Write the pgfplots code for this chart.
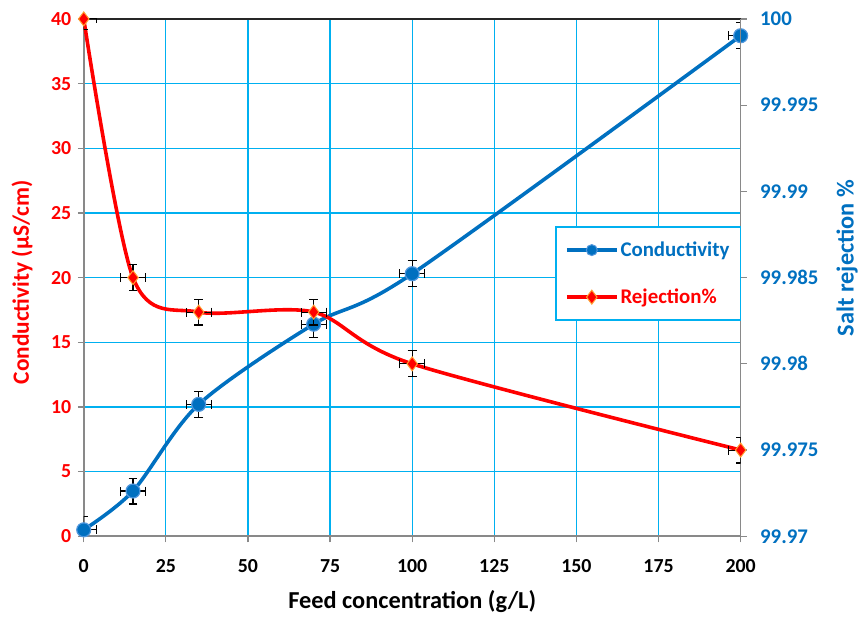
\documentclass[border=0pt]{standalone}
\usepackage{pgfplots}
\pgfplotsset{compat=1.18}
\usepackage{fontspec}
\setmainfont{Carlito}
\definecolor{cblue}{RGB}{0,112,192}
\definecolor{cbluelight}{RGB}{80,150,220}
\definecolor{gridblue}{RGB}{0,176,240}
\definecolor{axgray}{RGB}{137,137,137}
\definecolor{mkorange}{RGB}{255,160,50}

% feed concentration (g/L), value, x error, y error
\pgfplotstableread{
x    y      ex   ey
0    0.5    3.8  1.0
15   3.5    3.8  1.0
35   10.2   3.8  1.0
70   16.4   3.8  1.0
100  20.3   3.8  1.0
200  38.7   3.8  1.0
}\conductivity
\pgfplotstableread{
x    y        ex   ey
0    100      3.8  0.0006
15   99.985   3.8  0.00075
35   99.983   3.8  0.00075
70   99.983   3.8  0.00075
100  99.980   3.8  0.00075
200  99.975   3.8  0.00075
}\rejection

\begin{document}
\begin{tikzpicture}[x=1bp,y=1bp]
\path (0,0) rectangle (861,621);
\pgfplotsset{
  every axis/.append style={
    scale only axis, width=659bp, height=519bp,
    at={(84bp,83bp)}, anchor=south west,
    xmin=0, xmax=200, clip mode=individual,
    tick label style={font=\fontsize{20}{24}\selectfont\bfseries},
    /pgf/number format/assume math mode=true,
    tick align=outside, major tick length=6bp,
    tick style={axgray, line width=1.2bp},
    axis line style={axgray, line width=1.6bp},
  },
  errbar/.style={
    error bars/.cd,
      x dir=both, x explicit, y dir=both, y explicit,
      error bar style={black, line width=1.1bp},
      error mark options={rotate=90, black, line width=1.1bp, mark size=4.5bp},
  },
}
\begin{axis}[
  ymin=0, ymax=40, ytick={0,5,...,40},
  xtick={0,25,...,200},
  xtick pos=bottom, ytick pos=left,
  grid=major, grid style={gridblue, line width=1.3bp},
  xticklabel style={black, yshift=-14bp},
  yticklabel style={red, xshift=-3bp},
  xlabel={Feed concentration (g/L)},
  ylabel={Conductivity (µS/cm)},
  every axis x label/.style={at={(axis description cs:0.5,-0.127)}, anchor=center,
    font=\fontsize{24.5}{28}\selectfont\bfseries, black},
  every axis y label/.style={at={(axis description cs:-0.094,0.491)}, anchor=center, rotate=90,
    font=\fontsize{23.5}{27}\selectfont\bfseries, red},
]
\addplot[cblue, line width=3.6bp, smooth,
  mark=*, mark size=7bp, mark options={fill=cblue, draw=cbluelight, line width=1.2bp},
  errbar]
  table[x=x, y=y, x error=ex, y error=ey] {\conductivity};
\draw[black!85, line width=1.6bp] (rel axis cs:0,1) -- (rel axis cs:1,1);
\end{axis}

\begin{axis}[
  ymin=99.97, ymax=100,
  ytick={99.97,99.975,99.98,99.985,99.99,99.995,100},
  yticklabels={99.97,99.975,99.98,99.985,99.99,99.995,100},
  axis x line=none, axis y line*=right, ytick pos=right,
  yticklabel style={cblue, xshift=10bp, font=\fontsize{21}{25}\selectfont\bfseries},
  ylabel={Salt rejection \%},
  every axis y label/.style={at={(axis description cs:1.162,0.538)}, anchor=center, rotate=90,
    font=\fontsize{24.5}{28}\selectfont\bfseries, cblue},
  legend style={at={(axis description cs:0.718,0.599)}, anchor=north west,
    draw=gridblue, line width=1.4bp, fill=white,
    inner xsep=9bp, inner ysep=13bp, row sep=27bp,
    font=\fontsize{21}{25}\selectfont\bfseries},
  legend cell align=left,
  legend image code/.code={
    \draw[mark repeat=2, mark phase=2] plot coordinates {(0bp,0bp) (25bp,0bp) (50bp,0bp)};},
]
\addlegendimage{cblue, line width=3.6bp, mark=*, mark size=5.5bp,
  mark options={fill=cblue, draw=cbluelight, line width=1bp}}
\addlegendentry{\textcolor{cblue}{Conductivity}}
\addplot[red, line width=3.6bp, smooth,
  mark=diamond*, mark size=7bp, mark options={fill=red, draw=mkorange, line width=1bp},
  errbar]
  table[x=x, y=y, x error=ex, y error=ey] {\rejection};
\addlegendentry{\textcolor{red}{Rejection\%}}
\end{axis}
\end{tikzpicture}
\end{document}
